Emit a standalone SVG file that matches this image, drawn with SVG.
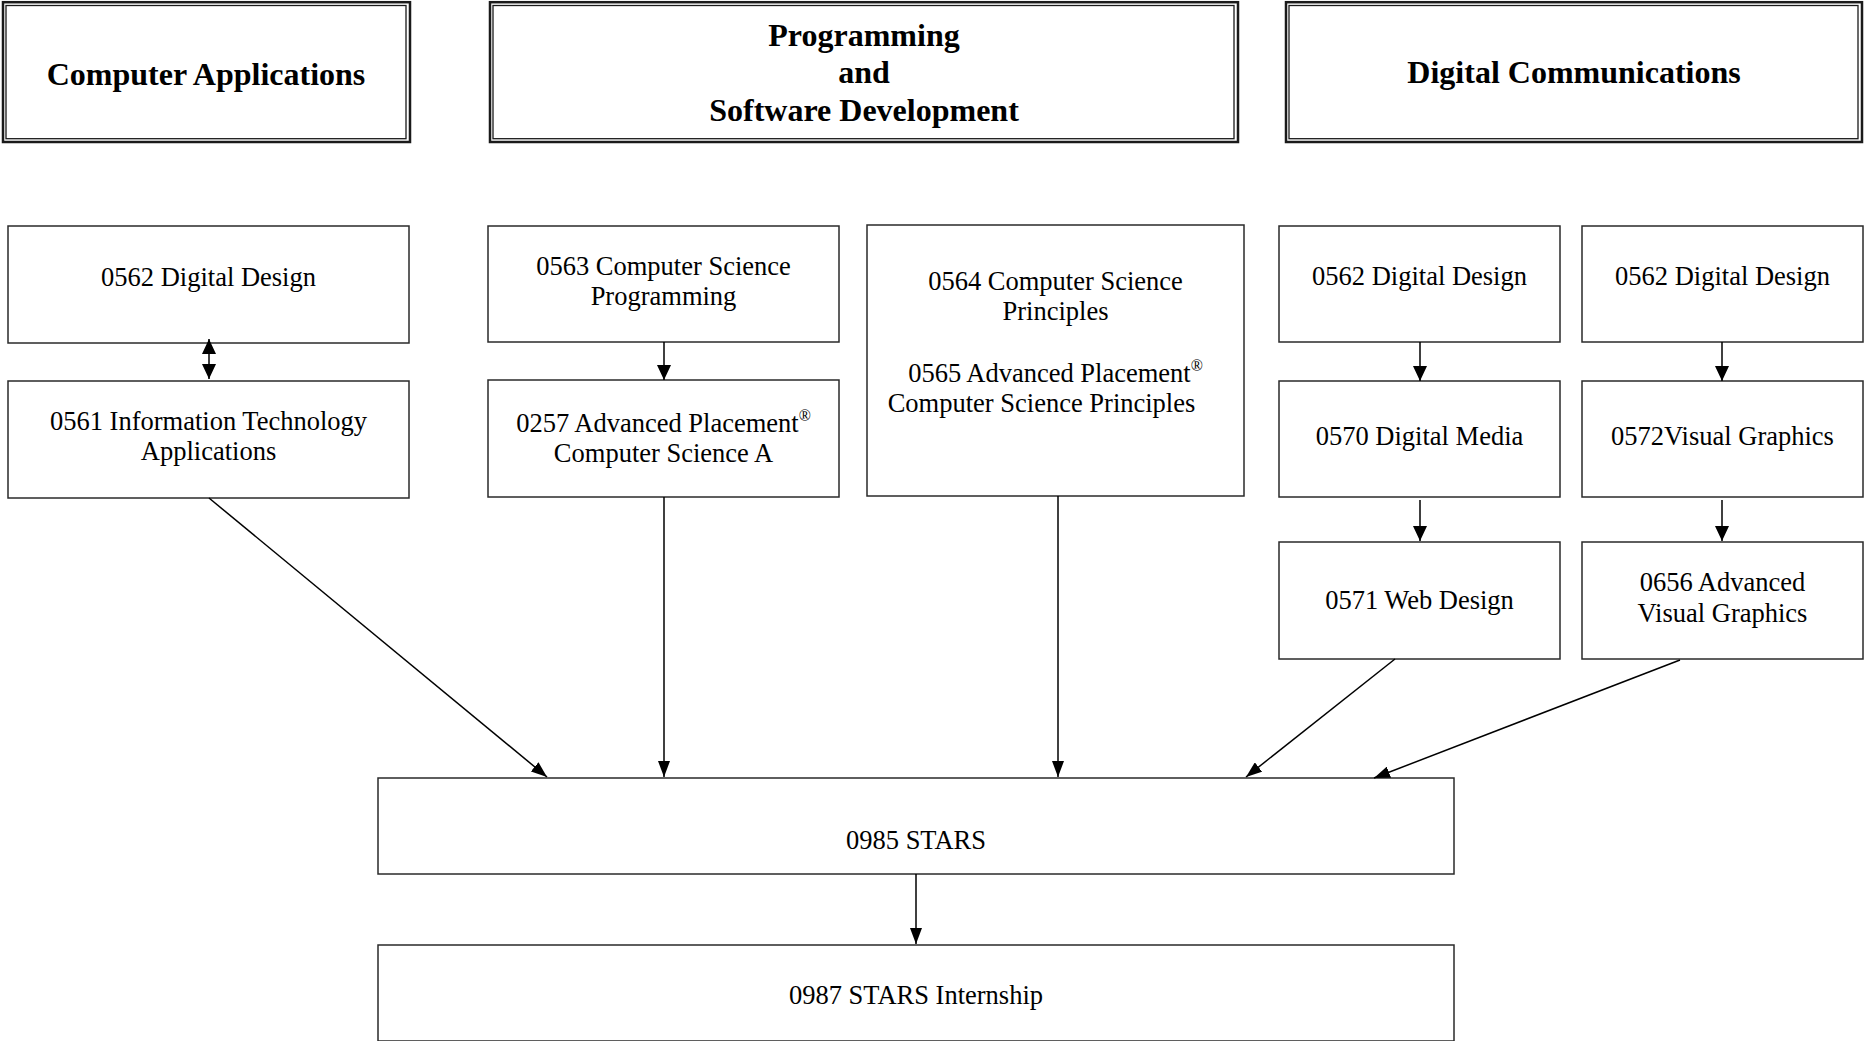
<svg xmlns="http://www.w3.org/2000/svg" width="1864" height="1041" viewBox="0 0 1864 1041">
<defs>
<style>
.bg{fill:#ffffff}
.box{fill:#ffffff;stroke:#2a2a2a;stroke-width:1.5}
.outer{fill:#ffffff;stroke:#1a1a1a;stroke-width:2.5}
.inner{fill:none;stroke:#1a1a1a;stroke-width:1.3}
.t{font-family:"Liberation Serif","Times New Roman",serif;font-size:26.5px;fill:#000;text-anchor:middle}
.h{font-family:"Liberation Serif","Times New Roman",serif;font-size:32px;font-weight:bold;fill:#000;text-anchor:middle}
.sup{font-size:16px}
.c{stroke:#000;stroke-width:1.5;fill:none}
</style>
<marker id="ah" markerUnits="userSpaceOnUse" markerWidth="16" markerHeight="12" refX="16" refY="6" orient="auto-start-reverse">
<path d="M0,0 L16,6 L0,12 Z" fill="#000"/>
</marker>
<marker id="ahw" markerUnits="userSpaceOnUse" markerWidth="15" markerHeight="14" refX="15" refY="7" orient="auto-start-reverse">
<path d="M0,0 L15,7 L0,14 Z" fill="#000"/>
</marker>
</defs>
<rect class="bg" x="0" y="0" width="1864" height="1041"/>

<g id="title-computer-applications">
<rect class="outer" x="3" y="2.2" width="407" height="139.8"/>
<rect class="inner" x="6" y="5.5" width="400" height="133.2"/>
<text class="h" x="206" y="84.5">Computer Applications</text>
</g>
<g id="title-programming">
<rect class="outer" x="490" y="2.2" width="748" height="139.8"/>
<rect class="inner" x="493" y="5.5" width="741" height="133.2"/>
<text class="h" x="864" y="46">Programming</text>
<text class="h" x="864" y="83">and</text>
<text class="h" x="864" y="121">Software Development</text>
</g>
<g id="title-digital-communications">
<rect class="outer" x="1286" y="2.2" width="576" height="139.8"/>
<rect class="inner" x="1289" y="5.5" width="569" height="133.2"/>
<text class="h" x="1574" y="83">Digital Communications</text>
</g>

<g id="n0562a">
<rect class="box" x="8" y="226" width="401" height="117"/>
<text class="t" x="208.5" y="286">0562 Digital Design</text>
</g>
<g id="n0561">
<rect class="box" x="8" y="381" width="401" height="117"/>
<text class="t" x="208.5" y="430">0561 Information Technology</text>
<text class="t" x="208.5" y="460">Applications</text>
</g>
<g id="n0563">
<rect class="box" x="488" y="226" width="351" height="116"/>
<text class="t" x="663.5" y="275">0563 Computer Science</text>
<text class="t" x="663.5" y="305">Programming</text>
</g>
<g id="n0257">
<rect class="box" x="488" y="380" width="351" height="117"/>
<text class="t" x="663.5" y="432">0257 Advanced Placement<tspan class="sup" dy="-11">®</tspan></text>
<text class="t" x="663.5" y="462">Computer Science A</text>
</g>
<g id="n0564">
<rect class="box" x="867" y="225" width="377" height="271"/>
<text class="t" x="1055.5" y="290">0564 Computer Science</text>
<text class="t" x="1055.5" y="320">Principles</text>
<text class="t" x="1055.5" y="382">0565 Advanced Placement<tspan class="sup" dy="-11">®</tspan></text>
<text class="t" x="1041.5" y="412">Computer Science Principles</text>
</g>
<g id="n0562b">
<rect class="box" x="1279" y="226" width="281" height="116"/>
<text class="t" x="1419.5" y="285">0562 Digital Design</text>
</g>
<g id="n0570">
<rect class="box" x="1279" y="381" width="281" height="116"/>
<text class="t" x="1419.5" y="445">0570 Digital Media</text>
</g>
<g id="n0571">
<rect class="box" x="1279" y="542" width="281" height="117"/>
<text class="t" x="1419.5" y="609">0571 Web Design</text>
</g>
<g id="n0562c">
<rect class="box" x="1582" y="226" width="281" height="116"/>
<text class="t" x="1722.5" y="285">0562 Digital Design</text>
</g>
<g id="n0572">
<rect class="box" x="1582" y="381" width="281" height="116"/>
<text class="t" x="1722.5" y="445">0572Visual Graphics</text>
</g>
<g id="n0656">
<rect class="box" x="1582" y="542" width="281" height="117"/>
<text class="t" x="1722.5" y="591">0656 Advanced</text>
<text class="t" x="1722.5" y="622">Visual Graphics</text>
</g>
<g id="n0985">
<rect class="box" x="378" y="778" width="1076" height="96"/>
<text class="t" x="916" y="849">0985 STARS</text>
</g>
<g id="n0987">
<rect class="box" x="378" y="945" width="1076" height="96"/>
<text class="t" x="916" y="1004">0987 STARS Internship</text>
</g>

<g id="connectors">
<line class="c" x1="209" y1="339" x2="209" y2="379" marker-start="url(#ahw)" marker-end="url(#ahw)"/>
<line class="c" x1="664" y1="342" x2="664" y2="380" marker-end="url(#ahw)"/>
<line class="c" x1="1420" y1="342" x2="1420" y2="381" marker-end="url(#ahw)"/>
<line class="c" x1="1722" y1="342" x2="1722" y2="381" marker-end="url(#ahw)"/>
<line class="c" x1="1420" y1="500" x2="1420" y2="541" marker-end="url(#ahw)"/>
<line class="c" x1="1722" y1="500" x2="1722" y2="541" marker-end="url(#ahw)"/>
<line class="c" x1="209" y1="498" x2="547" y2="777" marker-end="url(#ah)"/>
<line class="c" x1="664" y1="497" x2="664" y2="777" marker-end="url(#ah)"/>
<line class="c" x1="1058" y1="496" x2="1058" y2="777" marker-end="url(#ah)"/>
<line class="c" x1="1395" y1="659" x2="1246" y2="777" marker-end="url(#ah)"/>
<line class="c" x1="1680" y1="660" x2="1374" y2="778" marker-end="url(#ah)"/>
<line class="c" x1="916" y1="874" x2="916" y2="944" marker-end="url(#ah)"/>
</g>
</svg>
